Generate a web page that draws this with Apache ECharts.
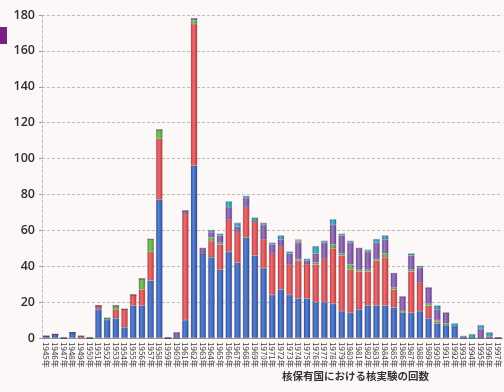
<!DOCTYPE html>
<html>
<head>
<meta charset="utf-8">
<script src="https://cdn.jsdelivr.net/npm/echarts@6/dist/echarts.min.js"></script>
<style>
  html, body { margin: 0; padding: 0; background: #fcf8f8; }
  #chart { width: 504px; height: 392px; }
</style>
</head>
<body>
<div id="chart"></div>
<script>
// Years 1945-1997
const years = [];
for (let y = 1945; y <= 1997; y++) years.push(y + '年');

// Number of nuclear tests per year, by country
const usa = [1,2,0,3,0,0,16,10,11,6,18,18,32,77,0,0,10,96,47,45,38,48,42,56,46,39,24,27,24,22,22,20,20,19,15,14,16,18,18,18,17,14,14,15,11,8,7,6,0,0,0,0,0];
const ussr = [0,0,0,0,1,0,2,0,5,10,6,9,16,34,0,0,59,79,0,9,14,18,17,17,19,16,23,24,17,21,19,21,24,31,31,24,21,19,25,27,10,0,23,16,7,1,0,0,0,0,0,0,0];
const uk = [0,0,0,0,0,0,0,1,2,0,0,6,7,5,0,0,0,2,0,2,1,0,0,0,0,0,0,0,0,1,0,1,0,2,1,3,1,1,1,2,1,1,1,0,1,1,1,0,0,0,0,0,0];
const france = [0,0,0,0,0,0,0,0,0,0,0,0,0,0,0,3,2,1,3,3,4,7,3,5,0,8,5,4,6,9,2,5,9,11,10,12,12,10,9,8,8,8,8,8,9,6,6,0,0,0,5,1,0];
const china = [0,0,0,0,0,0,0,0,0,0,0,0,0,0,0,0,0,0,0,1,1,3,2,1,2,1,1,2,1,1,1,4,1,3,1,1,0,1,2,2,0,0,1,1,0,2,0,2,1,2,2,2,0];
const india = [0,0,0,0,0,0,0,0,0,0,0,0,0,0,0,0,0,0,0,0,0,0,0,0,0,0,0,0,0,1,0,0,0,0,0,0,0,0,0,0,0,0,0,0,0,0,0,0,0,0,0,0,0];

const yTicks = [0, 20, 40, 60, 80, 100, 120, 140, 160, 180];

// Cylinder-like shading across each bar
function shade(edge, mid) {
  return new echarts.graphic.LinearGradient(0, 0, 1, 0, [
    { offset: 0, color: edge },
    { offset: 0.4, color: mid },
    { offset: 1, color: edge }
  ]);
}

const seriesDefs = [
  { name: 'アメリカ', data: usa, color: shade('#2b4e9c', '#5882d2') },
  { name: 'ソ連', data: ussr, color: shade('#c4383b', '#e86e71') },
  { name: 'イギリス', data: uk, color: shade('#4a9432', '#84c55a') },
  { name: 'フランス', data: france, color: shade('#67428d', '#9d78bd') },
  { name: '中国', data: china, color: shade('#1b83a0', '#50b6ce') },
  { name: 'インド', data: india, color: shade('#d9862e', '#f2b262') }
];

const chart = echarts.init(document.getElementById('chart'), null, { renderer: 'canvas' });

chart.setOption({
  backgroundColor: '#fcf8f8',
  animation: false,
  grid: { left: 42, right: 1.5, top: 15, bottom: 54 },
  xAxis: {
    type: 'category',
    data: years,
    boundaryGap: true,
    axisLine: { show: true, lineStyle: { color: '#9a9a9a', width: 1 } },
    axisTick: { show: false },
    axisLabel: {
      interval: 0,
      rotate: -90,
      margin: 4,
      fontSize: 8,
      color: '#3c3c3c',
      fontFamily: 'Noto Sans CJK JP'
    }
  },
  yAxis: {
    type: 'value',
    min: 0,
    max: 180,
    interval: 20,
    axisLine: { show: true, lineStyle: { color: '#c0c0c0', type: [3, 2] } },
    axisTick: { show: true, length: 3, lineStyle: { color: '#999' } },
    axisLabel: {
      margin: 7,
      fontSize: 12.5,
      fontWeight: 600,
      color: '#2e2e2e',
      fontFamily: 'Open Sans',
      formatter: v => (yTicks.includes(v) ? String(v) : '')
    },
    splitLine: { show: true, lineStyle: { color: '#bcbcbc', type: [3, 2], width: 1 } }
  },
  series: seriesDefs.map(s => ({
    name: s.name,
    type: 'bar',
    stack: 'tests',
    data: s.data,
    barWidth: 6.5,
    itemStyle: { color: s.color, borderColor: 'rgba(40,40,70,0.25)', borderWidth: 0.5 }
  })),
  graphic: [
    {
      type: 'rect',
      left: 0,
      top: 27,
      shape: { width: 7, height: 17 },
      style: { fill: '#7b1f84' }
    },
    {
      type: 'text',
      left: 282,
      top: 371,
      style: {
        text: '核保有国における核実験の回数',
        fill: '#333',
        font: 'bold 10.5px "Noto Sans CJK JP"'
      }
    }
  ]
});
</script>
</body>
</html>
